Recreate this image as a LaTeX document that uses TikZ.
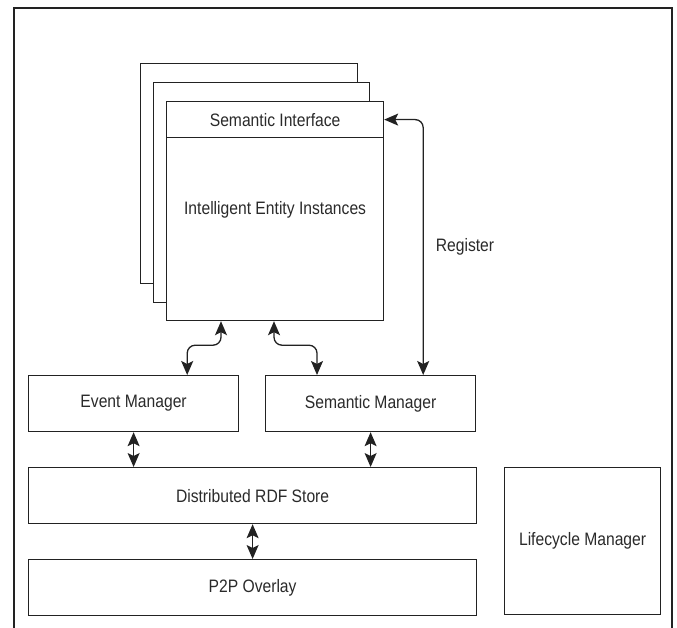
\documentclass[tikz,border=0pt]{standalone}
\usepackage{fontspec}
\setmainfont{Liberation Sans}[FakeStretch=0.87]
\usetikzlibrary{arrows.meta,calc}
\definecolor{ink}{HTML}{222222}
\definecolor{txt}{HTML}{2A2A2A}
\tikzset{
  box/.style={draw=ink, line width=1.2pt, fill=white, rectangle, inner sep=0pt,
              anchor=north west, text=txt, font=\fontsize{18pt}{21pt}\selectfont},
  lbl/.style={text=txt, inner sep=0pt, font=\fontsize{18pt}{21pt}\selectfont},
  link/.style={draw=ink, line width=1.3pt, rounded corners=8pt,
               arrows={Stealth[length=14pt,width=12pt,inset=3pt]-Stealth[length=14pt,width=12pt,inset=3pt]}},
}
\begin{document}
\begin{tikzpicture}[x=1pt,y=-1pt]
  \useasboundingbox (0,0) rectangle (677,628);
  % outer frame, open at the bottom
  \draw[ink, line width=1.3pt] (14,628) -- (14,8) -- (672,8) -- (672,628);

  % stacked instance boxes
  \node[box, minimum width=217pt, minimum height=220pt] (back2) at (140,63) {};
  \node[box, minimum width=216pt, minimum height=220pt] (back1) at (153,82) {};
  \node[box, minimum width=217pt, minimum height=36pt] (iface) at (166,101) {Semantic Interface};
  \node[box, minimum width=217pt, minimum height=183pt] (entity) at (166,137) {};
  \node[lbl] (entitytext) at ($(entity.north)+(0,73)$) {Intelligent Entity Instances};

  % managers and storage layers
  \node[box, minimum width=210pt, minimum height=56pt] (em) at (28,375) {Event Manager};
  \node[box, minimum width=210pt, minimum height=56pt] (sm) at (265,375) {Semantic Manager};
  \node[box, minimum width=448pt, minimum height=56pt] (rdf) at (28,467) {Distributed RDF Store};
  \node[box, minimum width=448pt, minimum height=56pt] (p2p) at (28,559) {P2P Overlay};
  \node[box, minimum width=156pt, minimum height=147pt] (lcm) at (504,467) {Lifecycle Manager};

  % connectors
  \draw[link] ($(entity.south west)+(55,0)$) -- ++(0,24) -| ($(em.north east)+(-52,0)$);
  \draw[link] ($(entity.south west)+(108,0)$) -- ++(0,24) -| ($(sm.north west)+(52,0)$);
  \draw[link] (iface.east) -| ($(sm.north east)+(-53,0)$)
    node[lbl, pos=0.75, right=12pt] (reg) {Register};
  \draw[link, rounded corners=0pt] (em.south) -- (em.south |- rdf.north);
  \draw[link, rounded corners=0pt] (sm.south) -- (sm.south |- rdf.north);
  \draw[link, rounded corners=0pt] (rdf.south) -- (p2p.north);
\end{tikzpicture}
\end{document}
